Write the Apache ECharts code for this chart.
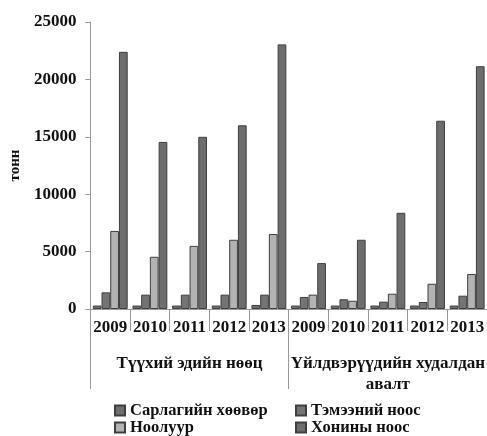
<!DOCTYPE html>
<html>
<head>
<meta charset="utf-8">
<script src="https://cdn.jsdelivr.net/npm/echarts@6/dist/echarts.min.js"></script>
<style>
  html, body { margin: 0; padding: 0; background: #fff; }
  #chart { width: 487px; height: 436px; }
</style>
</head>
<body>
<div id="chart"></div>
<script>
// years per group, two groups
const years = ['2009', '2010', '2011', '2012', '2013', '2009', '2010', '2011', '2012', '2013']
const groups = ['Түүхий эдийн нөөц', 'Үйлдвэрүүдийн худалдан авалт']
const seriesNames = ['Сарлагийн хөөвөр', 'Тэмээний ноос', 'Ноолуур', 'Хонины ноос']

const yakDown = [300, 300, 300, 300, 350, 300, 300, 300, 300, 300]
const camelWool = [1450, 1250, 1250, 1250, 1250, 1050, 850, 640, 610, 1160]
const cashmere = [6800, 4550, 5500, 6030, 6530, 1250, 720, 1330, 2200, 3050]
const sheepWool = [22400, 14550, 15000, 16000, 23050, 4000, 6030, 8380, 16400, 21150]

const yTicks = [0, 5000, 10000, 15000, 20000, 25000]

const colors = ['#6f6f6f', '#747474', '#b3b3b3', '#6d6d6d']
const font = '"Liberation Serif", "Times New Roman", serif'

function bar(name, data, color) {
  return {
    name: name,
    type: 'bar',
    data: data,
    barGap: '0%',
    barCategoryGap: '12%',
    itemStyle: { color: color, borderColor: '#3f3f3f', borderWidth: 1 }
  }
}

const legendText = { fontFamily: font, fontWeight: 'bold', fontSize: 16.5, lineHeight: 17, color: '#111' }

const chart = echarts.init(document.getElementById('chart'))
chart.setOption({
  animation: false,
  textStyle: { fontFamily: font },
  grid: { left: 85, right: 0, top: 22, bottom: 127, containLabel: false },
  legend: [
    {
      orient: 'vertical', left: 114, top: 402, height: 60, itemGap: 0,
      itemWidth: 10, itemHeight: 10, icon: 'rect', padding: 0,
      data: [seriesNames[0], seriesNames[2]],
      textStyle: legendText
    },
    {
      orient: 'vertical', left: 295, top: 402, height: 60, itemGap: 0,
      itemWidth: 10, itemHeight: 10, icon: 'rect', padding: 0,
      data: [seriesNames[1], seriesNames[3]],
      textStyle: legendText
    }
  ],
  xAxis: [
    {
      type: 'category',
      data: years,
      position: 'bottom',
      axisLine: { lineStyle: { color: '#999', width: 1 } },
      axisTick: { show: true, length: 22, alignWithLabel: false, lineStyle: { color: '#999' } },
      axisLabel: { fontFamily: font, fontWeight: 'bold', fontSize: 17, color: '#111', margin: 10, interval: 0 }
    },
    {
      type: 'category',
      data: groups,
      position: 'bottom',
      axisLine: { show: false },
      axisTick: { show: true, length: 80, lineStyle: { color: '#999' } },
      axisLabel: {
        fontFamily: font, fontWeight: 'bold', fontSize: 17, color: '#111',
        margin: 44, interval: 0, lineHeight: 21,
        formatter: v => v.replace(' авалт', '\nавалт')
      }
    }
  ],
  yAxis: {
    type: 'value',
    min: yTicks[0],
    max: yTicks[yTicks.length - 1],
    interval: 5000,
    name: 'тонн',
    nameLocation: 'middle',
    nameGap: 64,
    nameTextStyle: { fontFamily: font, fontWeight: 'bold', fontSize: 15, color: '#111' },
    axisLine: { show: true, lineStyle: { color: '#999' } },
    axisTick: { show: true, length: 5, lineStyle: { color: '#999' } },
    splitLine: { show: false },
    axisLabel: {
      fontFamily: font, fontWeight: 'bold', fontSize: 17, color: '#111', margin: 14,
      formatter: v => String(v)
    }
  },
  series: [
    bar(seriesNames[0], yakDown, colors[0]),
    bar(seriesNames[1], camelWool, colors[1]),
    bar(seriesNames[2], cashmere, colors[2]),
    bar(seriesNames[3], sheepWool, colors[3])
  ]
})
</script>
</body>
</html>
